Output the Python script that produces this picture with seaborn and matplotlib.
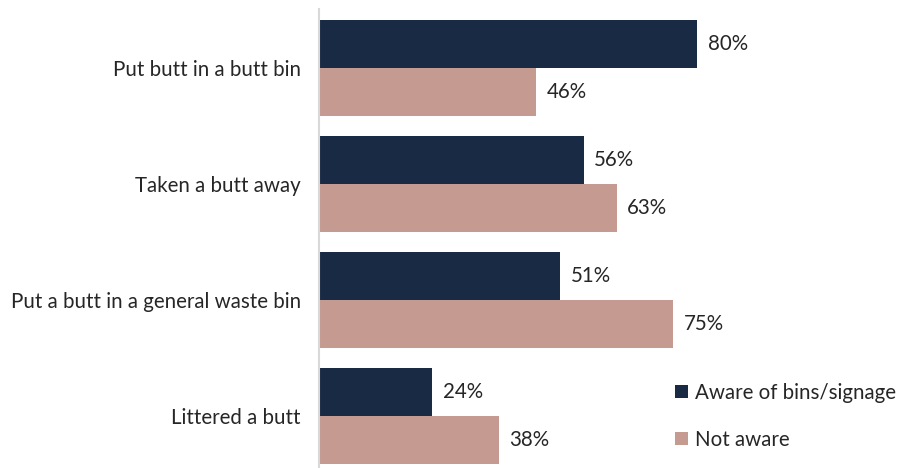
import matplotlib
matplotlib.use("Agg")
import matplotlib.pyplot as plt
import seaborn as sns
import pandas as pd
from matplotlib.patches import Patch

sns.set_theme(style="white")
plt.rcParams["font.family"] = ["Lato", "DejaVu Sans"]

behaviours = [
    "Put butt in a butt bin",
    "Taken a butt away",
    "Put a butt in a general waste bin",
    "Littered a butt",
]
aware = [80, 56, 51, 24]
not_aware = [46, 63, 75, 38]
series_names = ["Aware of bins/signage", "Not aware"]
colors = ["#192a45", "#c59a90"]

df = pd.DataFrame({
    "behaviour": behaviours * 2,
    "value": aware + not_aware,
    "group": [series_names[0]] * len(behaviours) + [series_names[1]] * len(behaviours),
})

fig = plt.figure(figsize=(8.98, 4.68), dpi=100)
ax = fig.add_axes([319 / 898, 0.0, 1 - 319 / 898, 1 - 9 / 468])

sns.barplot(data=df, y="behaviour", x="value", hue="group", orient="h",
            palette=colors, width=0.83, ax=ax, legend=False, saturation=1,
            linewidth=0, edgecolor="none")

for cont in ax.containers:
    ax.bar_label(cont, labels=[f"{v:.0f}%" for v in cont.datavalues],
                 padding=7.5, fontsize=14.8, color="#262626")

ax.set_xlim(0, 122.5)
ax.set_ylim(3.45, -0.51)
ax.set_xlabel("")
ax.set_ylabel("")
ax.set_xticks([])
ax.tick_params(axis="y", length=0, labelsize=14.8, labelcolor="#262626", pad=13)
for side in ["top", "right", "bottom"]:
    ax.spines[side].set_visible(False)
ax.spines["left"].set_color("#d9d9d9")
ax.spines["left"].set_linewidth(1.5)

handles = [Patch(facecolor=c, edgecolor="none") for c in colors]
ax.legend(handles, series_names, loc="lower right", bbox_to_anchor=(1.028, 0.0),
          frameon=False, fontsize=14.8, handlelength=0.6, handleheight=0.6,
          handletextpad=0.35, labelspacing=1.3, labelcolor="#262626")

fig.savefig("out.png", dpi=100)
